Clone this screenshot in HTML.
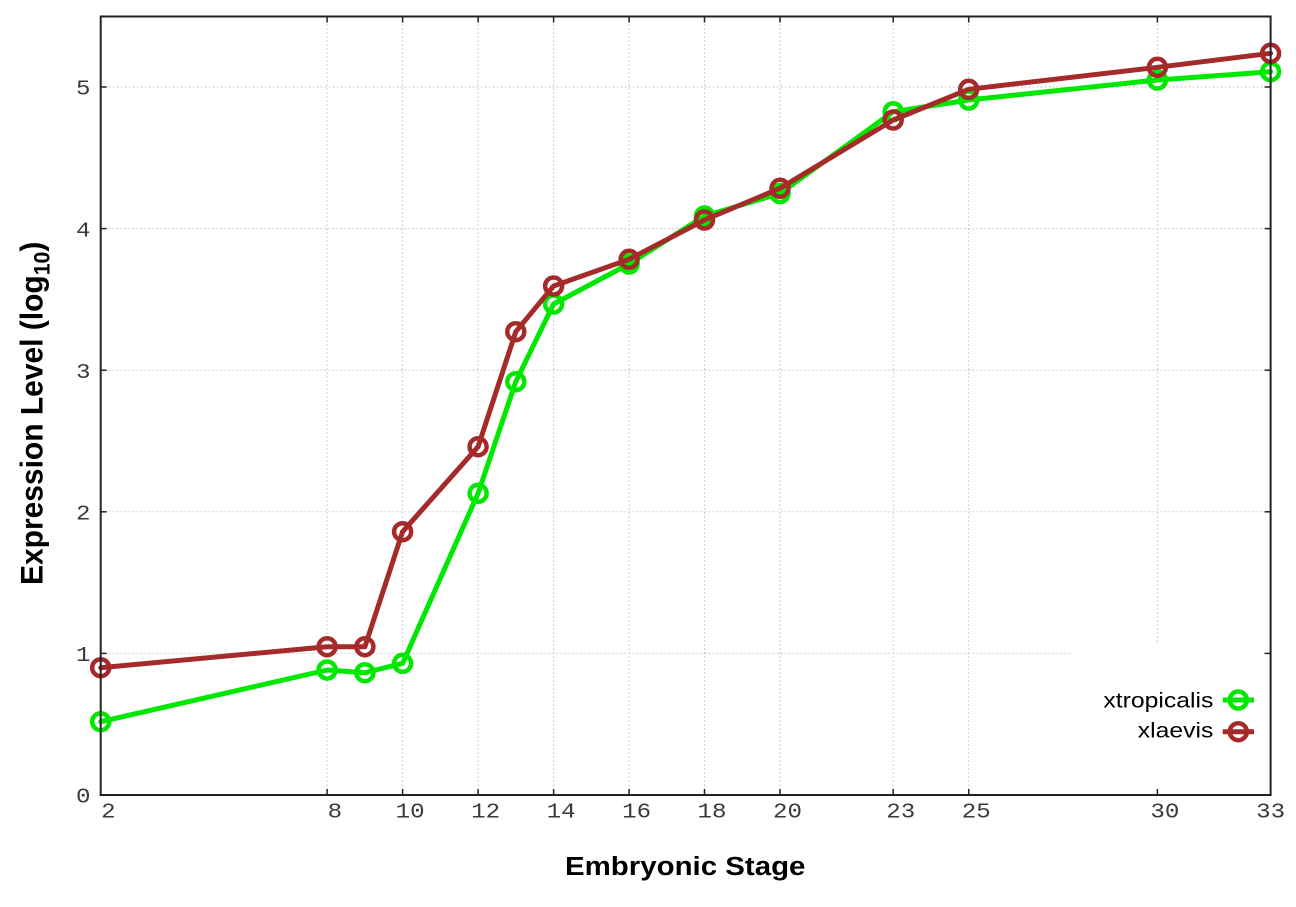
<!DOCTYPE html>
<html>
<head>
<meta charset="utf-8">
<style>
  html,body{margin:0;padding:0;background:#fff;}
  svg{display:block;}
  .tick{font-family:"Liberation Mono",monospace;font-size:21px;fill:#3a3a3a;}
  .title{font-family:"Liberation Sans",sans-serif;font-weight:bold;fill:#000;}
  .leg{font-family:"Liberation Sans",sans-serif;font-size:21.5px;fill:#000;}
</style>
</head>
<body>
<svg width="1296" height="907" viewBox="0 0 1296 907" xmlns="http://www.w3.org/2000/svg">
  <rect x="0" y="0" width="1296" height="907" fill="#fff"/>

  <!-- gridlines -->
  <g stroke="#bdbdbd" stroke-width="1" stroke-dasharray="1.5,2.5" fill="none">
    <line x1="100.7" y1="653.4" x2="1270.6" y2="653.4"/>
    <line x1="100.7" y1="511.8" x2="1270.6" y2="511.8"/>
    <line x1="100.7" y1="370.2" x2="1270.6" y2="370.2"/>
    <line x1="100.7" y1="228.6" x2="1270.6" y2="228.6"/>
    <line x1="100.7" y1="87.0" x2="1270.6" y2="87.0"/>
    <line x1="327.1" y1="16.5" x2="327.1" y2="795"/>
    <line x1="402.6" y1="16.5" x2="402.6" y2="795"/>
    <line x1="478.1" y1="16.5" x2="478.1" y2="795"/>
    <line x1="553.6" y1="16.5" x2="553.6" y2="795"/>
    <line x1="629.1" y1="16.5" x2="629.1" y2="795"/>
    <line x1="704.5" y1="16.5" x2="704.5" y2="795"/>
    <line x1="780.0" y1="16.5" x2="780.0" y2="795"/>
    <line x1="893.2" y1="16.5" x2="893.2" y2="795"/>
    <line x1="968.7" y1="16.5" x2="968.7" y2="795"/>
    <line x1="1157.4" y1="16.5" x2="1157.4" y2="795"/>
  </g>

  <!-- xtropicalis (green) -->
  <g stroke="#00e800" fill="none" stroke-linejoin="round" stroke-linecap="round">
    <polyline stroke-width="5" points="100.7,721.7 327.1,670 364.9,672.7 402.6,663.3 478.1,493.3 515.8,381.7 553.6,304 629.1,264 704.5,216 780,193.5 893.2,111.7 968.7,100 1157.4,80 1270.6,71.7"/>
    <g stroke-width="4.5">
      <circle cx="100.7" cy="721.7" r="8.5"/>
      <circle cx="327.1" cy="670" r="8.5"/>
      <circle cx="364.9" cy="672.7" r="8.5"/>
      <circle cx="402.6" cy="663.3" r="8.5"/>
      <circle cx="478.1" cy="493.3" r="8.5"/>
      <circle cx="515.8" cy="381.7" r="8.5"/>
      <circle cx="553.6" cy="304" r="8.5"/>
      <circle cx="629.1" cy="264" r="8.5"/>
      <circle cx="704.5" cy="216" r="8.5"/>
      <circle cx="780" cy="193.5" r="8.5"/>
      <circle cx="893.2" cy="111.7" r="8.5"/>
      <circle cx="968.7" cy="100" r="8.5"/>
      <circle cx="1157.4" cy="80" r="8.5"/>
      <circle cx="1270.6" cy="71.7" r="8.5"/>
    </g>
  </g>

  <!-- xlaevis (brown) -->
  <g stroke="#a52a2a" fill="none" stroke-linejoin="round" stroke-linecap="round">
    <polyline stroke-width="5" points="100.7,667.7 327.1,646.7 364.9,646.7 402.6,531.7 478.1,446.7 515.8,331.7 553.6,286 629.1,259.3 704.5,220 780,188.3 893.2,120 968.7,89.3 1157.4,67.3 1270.6,53.3"/>
    <g stroke-width="4.5">
      <circle cx="100.7" cy="667.7" r="8.5"/>
      <circle cx="327.1" cy="646.7" r="8.5"/>
      <circle cx="364.9" cy="646.7" r="8.5"/>
      <circle cx="402.6" cy="531.7" r="8.5"/>
      <circle cx="478.1" cy="446.7" r="8.5"/>
      <circle cx="515.8" cy="331.7" r="8.5"/>
      <circle cx="553.6" cy="286" r="8.5"/>
      <circle cx="629.1" cy="259.3" r="8.5"/>
      <circle cx="704.5" cy="220" r="8.5"/>
      <circle cx="780" cy="188.3" r="8.5"/>
      <circle cx="893.2" cy="120" r="8.5"/>
      <circle cx="968.7" cy="89.3" r="8.5"/>
      <circle cx="1157.4" cy="67.3" r="8.5"/>
      <circle cx="1270.6" cy="53.3" r="8.5"/>
    </g>
  </g>

  <!-- legend box (opaque) -->
  <rect x="1070" y="642" width="200" height="152" fill="#fff"/>
  <text class="leg" text-anchor="end" transform="translate(1213.3,707.3) scale(1.15,1)">xtropicalis</text>
  <text class="leg" text-anchor="end" transform="translate(1213.3,737.3) scale(1.15,1)">xlaevis</text>
  <g fill="none" stroke-width="4.5">
    <line x1="1222.7" y1="700" x2="1254" y2="700" stroke="#00e800" stroke-width="5"/>
    <circle cx="1238.3" cy="700" r="8.5" stroke="#00e800"/>
    <line x1="1222.7" y1="731.7" x2="1254" y2="731.7" stroke="#a52a2a" stroke-width="5"/>
    <circle cx="1238.3" cy="731.7" r="8.5" stroke="#a52a2a"/>
  </g>

  <!-- border -->
  <rect x="100.7" y="16.5" width="1169.9" height="778.5" fill="none" stroke="#222" stroke-width="2"/>

  <!-- ticks -->
  <g stroke="#222" stroke-width="1.5">
    <line x1="100.7" y1="653.4" x2="106.7" y2="653.4"/><line x1="1270.6" y1="653.4" x2="1264.6" y2="653.4"/>
    <line x1="100.7" y1="511.8" x2="106.7" y2="511.8"/><line x1="1270.6" y1="511.8" x2="1264.6" y2="511.8"/>
    <line x1="100.7" y1="370.2" x2="106.7" y2="370.2"/><line x1="1270.6" y1="370.2" x2="1264.6" y2="370.2"/>
    <line x1="100.7" y1="228.6" x2="106.7" y2="228.6"/><line x1="1270.6" y1="228.6" x2="1264.6" y2="228.6"/>
    <line x1="100.7" y1="87.0" x2="106.7" y2="87.0"/><line x1="1270.6" y1="87.0" x2="1264.6" y2="87.0"/>
    <line x1="327.1" y1="795" x2="327.1" y2="789"/><line x1="327.1" y1="16.5" x2="327.1" y2="22.5"/>
    <line x1="402.6" y1="795" x2="402.6" y2="789"/><line x1="402.6" y1="16.5" x2="402.6" y2="22.5"/>
    <line x1="478.1" y1="795" x2="478.1" y2="789"/><line x1="478.1" y1="16.5" x2="478.1" y2="22.5"/>
    <line x1="553.6" y1="795" x2="553.6" y2="789"/><line x1="553.6" y1="16.5" x2="553.6" y2="22.5"/>
    <line x1="629.1" y1="795" x2="629.1" y2="789"/><line x1="629.1" y1="16.5" x2="629.1" y2="22.5"/>
    <line x1="704.5" y1="795" x2="704.5" y2="789"/><line x1="704.5" y1="16.5" x2="704.5" y2="22.5"/>
    <line x1="780.0" y1="795" x2="780.0" y2="789"/><line x1="780.0" y1="16.5" x2="780.0" y2="22.5"/>
    <line x1="893.2" y1="795" x2="893.2" y2="789"/><line x1="893.2" y1="16.5" x2="893.2" y2="22.5"/>
    <line x1="968.7" y1="795" x2="968.7" y2="789"/><line x1="968.7" y1="16.5" x2="968.7" y2="22.5"/>
    <line x1="1157.4" y1="795" x2="1157.4" y2="789"/><line x1="1157.4" y1="16.5" x2="1157.4" y2="22.5"/>
  </g>

  <!-- y tick labels -->
  <g class="tick" text-anchor="end">
    <text transform="translate(90.5,802.7) scale(1.15,1)">0</text>
    <text transform="translate(90.5,661.1) scale(1.15,1)">1</text>
    <text transform="translate(90.5,519.5) scale(1.15,1)">2</text>
    <text transform="translate(90.5,377.9) scale(1.15,1)">3</text>
    <text transform="translate(90.5,236.3) scale(1.15,1)">4</text>
    <text transform="translate(90.5,94.7) scale(1.15,1)">5</text>
  </g>

  <!-- x tick labels -->
  <g class="tick" text-anchor="middle">
    <text transform="translate(108.4,817.3) scale(1.15,1)">2</text>
    <text transform="translate(334.8,817.3) scale(1.15,1)">8</text>
    <text transform="translate(410.1,817.3) scale(1.15,1)">10</text>
    <text transform="translate(485.6,817.3) scale(1.15,1)">12</text>
    <text transform="translate(561.1,817.3) scale(1.15,1)">14</text>
    <text transform="translate(636.6,817.3) scale(1.15,1)">16</text>
    <text transform="translate(712.0,817.3) scale(1.15,1)">18</text>
    <text transform="translate(787.5,817.3) scale(1.15,1)">20</text>
    <text transform="translate(900.7,817.3) scale(1.15,1)">23</text>
    <text transform="translate(976.2,817.3) scale(1.15,1)">25</text>
    <text transform="translate(1164.9,817.3) scale(1.15,1)">30</text>
    <text transform="translate(1270.6,817.3) scale(1.15,1)">33</text>
  </g>

  <!-- axis titles -->
  <text class="title" font-size="25.6" transform="translate(565,875) scale(1.15,1)">Embryonic Stage</text>
  <text class="title" font-size="27.5" transform="translate(42.7,585) rotate(-90) scale(1.09,1.15)">Expression Level (log<tspan font-size="19.5" dy="6">10</tspan><tspan dy="-6">)</tspan></text>
</svg>
</body>
</html>
